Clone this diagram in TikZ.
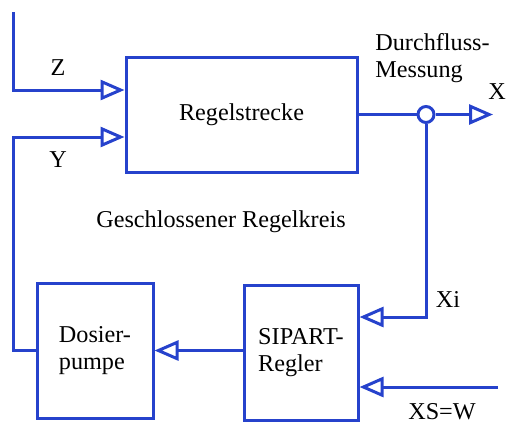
\documentclass[tikz,border=0pt]{standalone}
\usepackage{fontspec}
\setmainfont{Liberation Serif}
\usetikzlibrary{arrows.meta}
\definecolor{linie}{RGB}{38,66,204}
\tikzset{
  block/.style={draw=linie, line width=1.5pt, inner sep=0pt, align=left},
  pfeil/.style={-{Triangle[open,length=12pt,width=10pt]}},
  leitung/.style={draw=linie, line width=1.5pt},
}
\begin{document}
\begin{tikzpicture}[x=0.5pt,y=-0.5pt, font=\fontsize{12.1}{13.5}\selectfont]
				\useasboundingbox (0,0) rectangle (506,423);
				% Bloecke
				\node[block, minimum width=115.5pt, minimum height=57.5pt] (strecke) at (241.5,114.5) {Regelstrecke};
				\node[block, minimum width=58pt, minimum height=67.5pt] (pumpe) at (95,350.5) {Dosier-\\pumpe};
				\node[block, minimum width=57pt, minimum height=67.5pt] (regler) at (301,352.5) {SIPART-\\Regler};
				\node[draw=linie, line width=1.5pt, circle, inner sep=0pt, minimum size=8pt, fill=white] (mess) at (426,114.5) {};
				% Endpunkte
				\coordinate (ztop) at (13,12);
				\coordinate (xout) at (493,114.5);
				\coordinate (xsin) at (498,387);
				% Leitungen
				\draw[leitung, pfeil] (ztop) |- (strecke.west |- 0,90);
				\draw[leitung, pfeil] (pumpe.west) -- (13,350.5) |- (strecke.west |- 0,137);
				\draw[leitung] (strecke.east) -- (mess.west);
				\draw[leitung, pfeil] (mess.east) -- (xout);
				\draw[leitung, pfeil] (mess.south) |- (regler.east |- 0,317);
				\draw[leitung, pfeil] (xsin) -- (regler.east |- xsin);
				\draw[leitung, pfeil] (regler.west |- pumpe.east) -- (pumpe.east);
				% Beschriftung
				\node (zlab) at (58,68) {Z};
				\node (ylab) at (58,160) {Y};
				\node (xlab) at (497,92) {X};
				\node (xilab) at (448,299) {Xi};
				\node (xslab) at (442,412) {XS=W};
				\node[align=left, anchor=west, inner sep=0pt] (messlab) at (375,58) {Durchfluss-\\Messung};
				\node (kreis) at (221,222) {Geschlossener Regelkreis};
			\end{tikzpicture}
\end{document}
